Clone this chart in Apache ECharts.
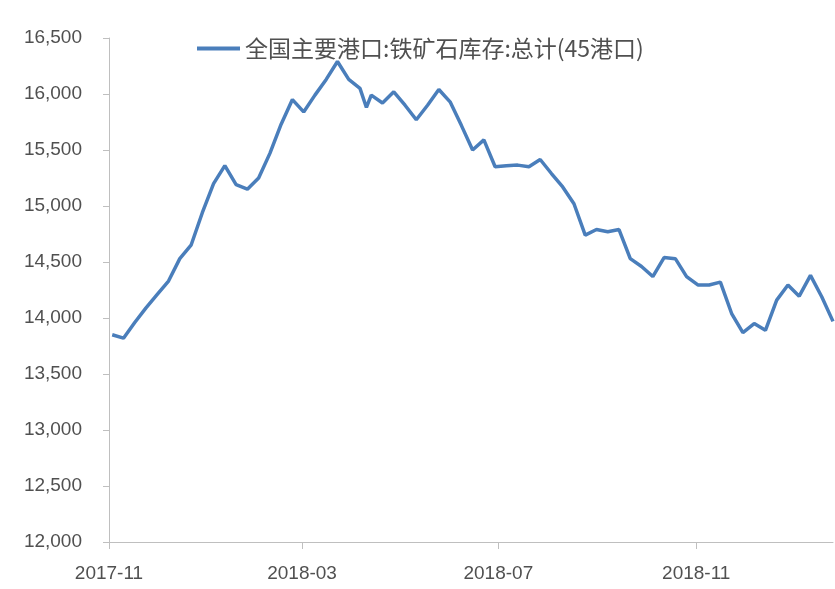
<!DOCTYPE html>
<html>
<head>
<meta charset="utf-8">
<script src="https://cdn.jsdelivr.net/npm/echarts@6/dist/echarts.min.js"></script>
<style>
html,body{margin:0;padding:0;background:#fff;}
#chart{width:835px;height:589px;}
</style>
</head>
<body>
<div id="chart"></div>
<script>
var seriesName = '全国主要港口:铁矿石库存:总计(45港口)';
var dates = [
'2017-11-03','2017-11-10','2017-11-17','2017-11-24','2017-12-01','2017-12-08','2017-12-15','2017-12-22','2017-12-29',
'2018-01-05','2018-01-12','2018-01-19','2018-01-26','2018-02-02','2018-02-09','2018-02-16','2018-02-23',
'2018-03-02','2018-03-09','2018-03-16','2018-03-23','2018-03-30','2018-04-06','2018-04-10','2018-04-13','2018-04-20','2018-04-27',
'2018-05-04','2018-05-11','2018-05-18','2018-05-25','2018-06-01','2018-06-08','2018-06-15','2018-06-22','2018-06-29',
'2018-07-06','2018-07-13','2018-07-20','2018-07-27','2018-08-03','2018-08-10','2018-08-17','2018-08-24','2018-08-31',
'2018-09-07','2018-09-14','2018-09-21','2018-09-28','2018-10-05','2018-10-12','2018-10-19','2018-10-26',
'2018-11-02','2018-11-09','2018-11-16','2018-11-23','2018-11-30','2018-12-07','2018-12-14','2018-12-21','2018-12-28',
'2019-01-04','2019-01-11','2019-01-18','2019-01-25'
];
var values = [
13850,13820,13960,14090,14210,14330,14530,14650,14940,
15200,15360,15190,15150,15250,15470,15730,15950,
15840,15990,16130,16290,16130,16050,15880,15990,15920,16020,
15900,15770,15900,16040,15930,15720,15500,15590,15350,
15360,15365,15350,15415,15290,15170,15020,14740,14790,
14770,14790,14530,14460,14370,14540,14530,14370,
14295,14295,14320,14040,13870,13950,13890,14160,14295,
14195,14380,14190,13970
];
var xTickDates = ['2017-11-01','2018-03-01','2018-07-01','2018-11-01'];
var xMin = '2017-11-01';
var xMax = '2019-01-25';
var yMin = 12000, yMax = 16500, yStep = 500;

var DAY = 86400000;
function dayNum(s){ var p = s.split('-'); return Date.UTC(+p[0], +p[1]-1, +p[2]) / DAY; }
var seriesData = dates.map(function(d, i){ return [dayNum(d), values[i]]; });
var tickVals = xTickDates.map(dayNum);

var chart = echarts.init(document.getElementById('chart'), null, {renderer:'canvas'});
var axisColor = '#bfbfbf';
var labelColor = '#505050';
var lineColor = '#4A7EBB';
var fontFam = '"Liberation Sans", Arial, sans-serif';
chart.setOption({
  animation: false,
  backgroundColor: '#ffffff',
  grid: { left: 109, right: 2, top: 38, bottom: 47, containLabel: false },
  legend: {
    left: 192, top: 32,
    itemWidth: 43, itemHeight: 4, itemGap: 10,
    textStyle: { fontSize: 23, color: labelColor, fontFamily: '"Noto Sans CJK SC", sans-serif' },
    data: [{ name: seriesName, icon: 'rect', itemStyle: { color: lineColor } }]
  },
  xAxis: {
    type: 'value',
    min: dayNum(xMin), max: dayNum(xMax),
    axisLine: { lineStyle: { color: axisColor, width: 1 } },
    axisTick: { show: true, length: 7, lineStyle: { color: axisColor }, customValues: tickVals },
    axisLabel: {
      customValues: tickVals,
      margin: 22,
      color: labelColor, fontSize: 19, fontFamily: fontFam,
      formatter: function(v){ var d = new Date(Math.round(v) * DAY); var m = d.getUTCMonth()+1; return d.getUTCFullYear() + '-' + (m<10?'0'+m:m); }
    },
    splitLine: { show: false }
  },
  yAxis: {
    type: 'value',
    min: yMin, max: yMax, interval: yStep,
    axisLine: { show: true, lineStyle: { color: axisColor, width: 1 } },
    axisTick: { show: true, length: 6, inside: false, lineStyle: { color: axisColor } },
    axisLabel: {
      margin: 27, color: labelColor, fontSize: 19, fontFamily: fontFam,
      formatter: function(v){ return String(v).replace(/\B(?=(\d{3})+(?!\d))/g, ','); }
    },
    splitLine: { show: false }
  },
  series: [{
    name: seriesName,
    type: 'line',
    data: seriesData,
    symbol: 'none',
    showSymbol: false,
    clip: true,
    lineStyle: { color: lineColor, width: 3.5 },
    itemStyle: { color: lineColor }
  }]
});
</script>
</body>
</html>
